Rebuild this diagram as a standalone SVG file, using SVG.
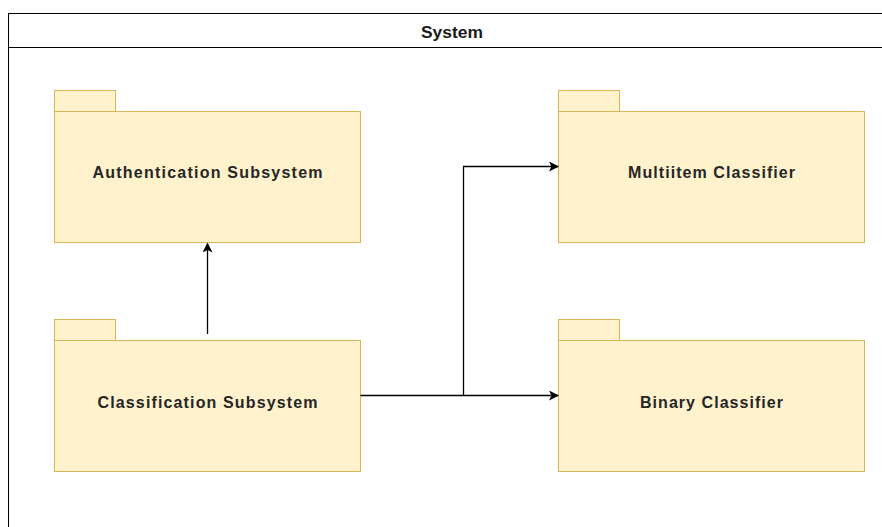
<svg xmlns="http://www.w3.org/2000/svg" width="882" height="527" viewBox="0 0 882 527">
  <style>
    .frame { fill: #ffffff; stroke: #000000; stroke-width: 1; }
    .pkg { fill: #fff2cc; stroke: #d6b656; stroke-width: 1; }
    .label { font-family: "Liberation Sans", Arial, sans-serif; font-size: 16px; font-weight: bold; fill: #262626; text-anchor: middle; dominant-baseline: central; }
    .title { font-family: "Liberation Sans", Arial, sans-serif; font-size: 16px; font-weight: bold; fill: #1a1a1a; text-anchor: middle; dominant-baseline: central; }
    .edge { fill: none; stroke: #000000; stroke-width: 1.3; }
  </style>
  <defs>
    <marker id="arrow" viewBox="0 0 10 10" refX="9" refY="5" markerWidth="10" markerHeight="10" markerUnits="userSpaceOnUse" orient="auto">
      <path d="M0,0 L10,5 L0,10 L2.5,5 Z" fill="#000000"/>
    </marker>
  </defs>
  <rect width="882" height="527" fill="#ffffff"/>

  <!-- System frame with header -->
  <g id="system">
    <rect class="frame" x="8.5" y="13.5" width="900" height="540"/>
    <line x1="8.5" y1="47.5" x2="882" y2="47.5" stroke="#000000" stroke-width="1"/>
    <text class="title" x="452" y="32" textLength="62" lengthAdjust="spacingAndGlyphs">System</text>
  </g>

  <g id="authentication">
    <rect class="pkg" x="54.5" y="90.5" width="61" height="21"/>
    <rect class="pkg" x="54.5" y="111.5" width="306" height="131"/>
    <text class="label" x="207.5" y="172" textLength="230" lengthAdjust="spacing">Authentication Subsystem</text>
  </g>

  <g id="classification">
    <rect class="pkg" x="54.5" y="319.5" width="61" height="21"/>
    <rect class="pkg" x="54.5" y="340.5" width="306" height="131"/>
    <text class="label" x="207.5" y="402" textLength="220" lengthAdjust="spacing">Classification Subsystem</text>
  </g>

  <g id="multiitem">
    <rect class="pkg" x="558.5" y="90.5" width="61" height="21"/>
    <rect class="pkg" x="558.5" y="111.5" width="306" height="131"/>
    <text class="label" x="711.5" y="172" textLength="167" lengthAdjust="spacing">Multiitem Classifier</text>
  </g>

  <g id="binary">
    <rect class="pkg" x="558.5" y="319.5" width="61" height="21"/>
    <rect class="pkg" x="558.5" y="340.5" width="306" height="131"/>
    <text class="label" x="711.5" y="402" textLength="143" lengthAdjust="spacing">Binary Classifier</text>
  </g>

  <g id="connectors">
    <path class="edge" d="M207.5,334 L207.5,243.5" marker-end="url(#arrow)"/>
    <path class="edge" d="M360.5,395.5 L558,395.5" marker-end="url(#arrow)"/>
    <path class="edge" d="M463.5,395.5 L463.5,166.5 L558,166.5" marker-end="url(#arrow)"/>
  </g>
</svg>
